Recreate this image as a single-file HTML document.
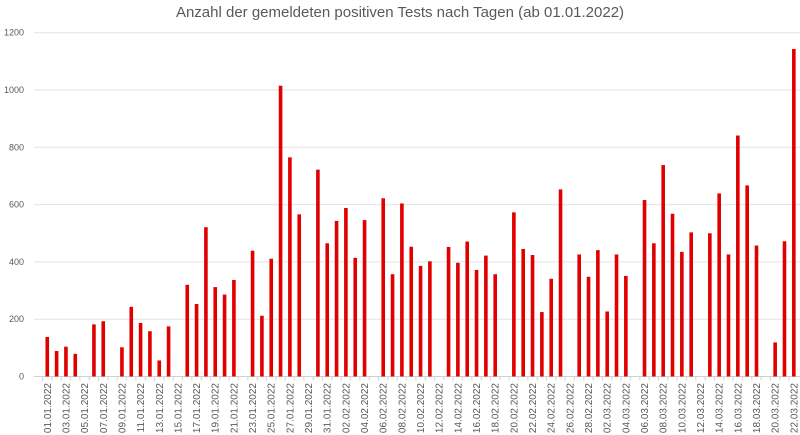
<!DOCTYPE html>
<html><head><meta charset="utf-8"><style>
html,body{margin:0;padding:0;background:#fff;}
svg{display:block;font-family:"Liberation Sans",sans-serif;}
</style></head><body>
<svg id="chart" width="800" height="435" viewBox="0 0 800 435" xmlns="http://www.w3.org/2000/svg">
<text x="400" y="17" text-anchor="middle" font-size="15" fill="#595959">Anzahl der gemeldeten positiven Tests nach Tagen (ab 01.01.2022)</text>
<g id="grid"></g>
<g id="ylabels"></g>
<g id="bars"></g>
<g id="xlabels"></g>
</svg>
<script>
const values = [138,89,104,79,0,182,193,0,102,243,187,158,56,175,0,320,253,521,312,286,337,0,439,212,411,1015,765,566,0,722,465,543,588,414,546,0,622,357,604,453,386,402,0,452,397,471,372,422,357,0,573,445,424,225,341,653,0,426,348,441,227,426,351,0,616,465,738,568,435,503,0,500,639,426,841,667,457,0,119,472,1143];
const yTicks = [0,200,400,600,800,1000,1200];
const startDay = 1; // 01.01.2022
const ns = "http://www.w3.org/2000/svg";
const X0 = 42.6, X1 = 798.5, Y0 = 376.5, Y1 = 32.7, YMAX = 1200;
const n = values.length;
const bw = (X1 - X0) / n;
function xScale(i){ return X0 + bw * (i + 0.5); }
function yScale(v){ return Y0 - (v / YMAX) * (Y0 - Y1); }
function labelFor(i){
  const d = new Date(Date.UTC(2022,0,startDay + i));
  const dd = String(d.getUTCDate()).padStart(2,'0');
  const mm = String(d.getUTCMonth()+1).padStart(2,'0');
  return dd + "." + mm + "." + d.getUTCFullYear();
}
const grid = document.getElementById('grid');
const yl = document.getElementById('ylabels');
yTicks.forEach(t => {
  const y = yScale(t);
  const l = document.createElementNS(ns,'line');
  
  
  l.setAttribute('x1', 34); l.setAttribute('x2', 800);
  l.setAttribute('y1', y); l.setAttribute('y2', y);
  l.setAttribute('stroke', t === 0 ? '#d0d0d0' : '#e3e3e3'); l.setAttribute('stroke-width', 1);
  grid.appendChild(l);
  const tx = document.createElementNS(ns,'text');
  
  
  tx.setAttribute('x', 24); tx.setAttribute('y', y + 3);
  tx.setAttribute('text-anchor', 'end'); tx.setAttribute('font-size', '9');
  tx.setAttribute('fill', '#595959');
  tx.textContent = t;
  yl.appendChild(tx);
});
const bars = document.getElementById('bars');
const xl = document.getElementById('xlabels');
values.forEach((v,i) => {
  const cx = xScale(i);
  if (v > 0) {
    const r = document.createElementNS(ns,'rect');
    
    
    r.setAttribute('x', cx - 1.8); r.setAttribute('width', 3.6);
    r.setAttribute('y', yScale(v)); r.setAttribute('height', Y0 - yScale(v));
    r.setAttribute('fill', '#e00000');
    bars.appendChild(r);
  }
  const tk = document.createElementNS(ns,'line');
  
  
  const tx0 = X0 + bw * i;
  tk.setAttribute('x1', tx0); tk.setAttribute('x2', tx0);
  tk.setAttribute('y1', Y0); tk.setAttribute('y2', Y0 + 4);
  tk.setAttribute('stroke', '#d0d0d0');
  bars.appendChild(tk);
  if (i % 2 === 0) {
    const t = document.createElementNS(ns,'text');
    
    
    t.setAttribute('transform', 'translate(' + (cx + 3.5) + ',383) rotate(-90)');
    t.setAttribute('text-anchor', 'end'); t.setAttribute('font-size', '10');
    t.setAttribute('fill', '#595959');
    t.textContent = labelFor(i);
    xl.appendChild(t);
  }
});
</script>
</body></html>
